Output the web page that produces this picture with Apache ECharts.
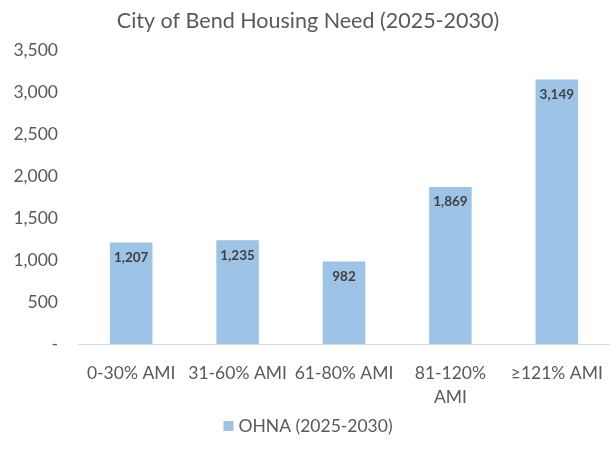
<!DOCTYPE html>
<html>
<head>
<meta charset="utf-8">
<script src="https://cdn.jsdelivr.net/npm/echarts@6/dist/echarts.min.js"></script>
<style>
  html, body { margin: 0; padding: 0; background: #fff; }
  #chart { width: 616px; height: 449px; }
</style>
</head>
<body>
<div id="chart"></div>
<script>
// categories and values
var categories = ['0-30% AMI', '31-60% AMI', '61-80% AMI', '81-120% AMI', '≥121% AMI'];
var ohnaValues = [1207, 1235, 982, 1869, 3149];
var seriesName = 'OHNA (2025-2030)';
var titleText = 'City of Bend Housing Need (2025-2030)';

function fmt(v) {
	return v.toString().replace(/\B(?=(\d{3})+(?!\d))/g, ',');
}

var chart = echarts.init(document.getElementById('chart'));
var font = 'Lato, "Open Sans", sans-serif';

var option = {
	animation: false,
	title: {
		text: titleText,
		left: 'center',
		top: 5,
		textStyle: { color: '#595959', fontSize: 21.5, fontWeight: 'normal', fontFamily: font }
	},
	legend: {
		bottom: 9,
		left: 'center',
		icon: 'rect',
		itemWidth: 10,
		itemHeight: 10,
		itemGap: 6,
		textStyle: { color: '#595959', fontSize: 17.5, fontFamily: font },
		data: [seriesName]
	},
	grid: { left: 78, right: 6, top: 50, bottom: 105 },
	xAxis: {
		type: 'category',
		data: categories,
		axisTick: { show: false },
		axisLine: { lineStyle: { color: '#d9d9d9', width: 1 } },
		axisLabel: {
			color: '#595959',
			fontSize: 17.5,
			fontFamily: font,
			margin: 17,
			interval: 0,
			lineHeight: 24,
			formatter: function (v) { return v === '81-120% AMI' ? '81-120%\nAMI' : v; }
		}
	},
	yAxis: {
		type: 'value',
		min: 0,
		max: 3500,
		interval: 500,
		splitLine: { show: false },
		axisLine: { show: false },
		axisTick: { show: false },
		axisLabel: {
			color: '#595959',
			fontSize: 17.5,
			fontFamily: font,
			margin: 20,
			formatter: function (v) { return v === 0 ? '-' : fmt(v); }
		}
	},
	series: [{
		name: seriesName,
		type: 'bar',
		data: ohnaValues,
		barWidth: '40%',
		itemStyle: { color: '#9DC3E6' },
		label: {
			show: true,
			position: 'insideTop',
			distance: 8,
			color: '#404040',
			fontSize: 13.5,
			fontWeight: 'bold',
			fontFamily: font,
			formatter: function (p) { return fmt(p.value); }
		}
	}]
};

chart.setOption(option);
</script>
</body>
</html>
